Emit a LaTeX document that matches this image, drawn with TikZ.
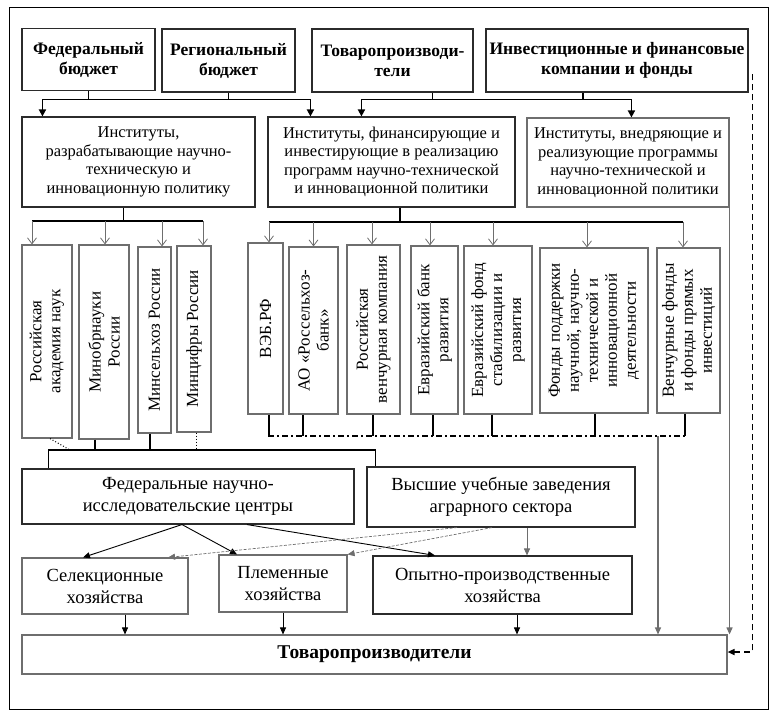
\documentclass[tikz,border=0pt]{standalone}
\usepackage{fontspec}
\setmainfont{Liberation Serif}
\usetikzlibrary{arrows.meta,calc}
\definecolor{lineclr}{HTML}{2B2B2B}
\definecolor{greyclr}{HTML}{6E6E6E}

\begin{document}
\begin{tikzpicture}[
   x=1pt, y=-1pt,
   box/.style={draw=lineclr, line width=1.1pt, inner sep=2pt, align=center},
   sz/.style 2 args={minimum width=#1pt, minimum height=#2pt},
   head/.style={font=\fontsize{17.5}{20}\selectfont\bfseries},
   txt/.style={font=\fontsize{16.5}{18.5}\selectfont},
   vbox/.style={box, draw=greyclr, rotate=90, font=\fontsize{17}{19}\selectfont},
   big/.style={font=\fontsize{18.5}{22}\selectfont},
   bus/.style={line width=1.7pt, draw=black},
   tips/.style={{Triangle[width=7pt,length=7pt]}-{Triangle[width=7pt,length=7pt]}},
   drop/.style={draw=greyclr, line width=0.8pt, -{Straight Barb[width=9pt,length=6pt]}},
   arr/.style={line width=0.9pt, -{Triangle[width=6pt,length=7pt]}},
   darr/.style={draw=greyclr, line width=0.7pt, dash pattern=on 3pt off 1.5pt,
                -{Triangle[width=6pt,length=7pt]}},
   feed/.style={draw=greyclr, line width=1.2pt, -{Triangle[width=6pt,length=7pt]}},
   ret/.style={draw=black, line width=1.6pt, dash pattern=on 6pt off 4pt,
               {Triangle[width=6pt,length=7pt]}-},
   dashdot/.style={line width=1.7pt, dash pattern=on 6pt off 3pt on 2pt off 3pt}]
  \useasboundingbox (0,0) rectangle (778,720);
  \draw[line width=1pt] (9,7) rectangle (768,709);

  % sources
  \node[box, head, sz={133}{62}] (fb) at (88.5,59.5) {Федеральный\\бюджет};
  \node[box, head, sz={133}{63}] (rb) at (228.5,60.5) {Региональный\\бюджет};
  \node[box, head, sz={161}{63}] (tp) at (392.5,60.5) {Товаропроизводи-\\тели};
  \node[box, head, sz={262}{63}] (ifk) at (617,60.5) {Инвестиционные и финансовые\\компании и фонды};

  % institutes
  \node[box, txt, sz={233}{90}] (ia) at (138.5,162) {Институты,\\разрабатывающие научно-\\техническую и\\инновационную политику};
  \node[box, txt, sz={247}{90}] (ib) at (391.5,162) {Институты, финансирующие и\\инвестирующие в реализацию\\программ научно-технической\\и инновационной политики};
  \node[box, txt, draw=greyclr, sz={202}{89}] (ic) at (628,162.5) {Институты, внедряющие и\\реализующие программы\\научно-технической и\\инновационной политики};

  % rotated boxes: .east is the top edge, .west the bottom edge
  \node[vbox, sz={193}{50}] (ran) at (47,341.5) {Российская\\академия наук};
  \node[vbox, sz={194}{50}] (mon) at (104,342) {Минобрнауки\\России};
  \node[vbox, sz={186}{33}] (msh) at (154.5,340) {Минсельхоз России};
  \node[vbox, sz={186}{34}] (mcf) at (194,339) {Минцифры России};

  \node[vbox, sz={171}{35}] (veb) at (265.5,328.5) {ВЭБ.РФ};
  \node[vbox, sz={167}{49}] (rsb) at (313.5,330.5) {АО «Россельхоз-\\банк»};
  \node[vbox, sz={169}{53}] (rvk) at (373.5,329.5) {Российская\\венчурная компания};
  \node[vbox, sz={168}{47}] (ebr) at (434.5,330) {Евразийский банк\\развития};
  \node[vbox, sz={168}{68}] (efsr) at (498,330) {Евразийский фонд\\стабилизации и\\развития};
  \node[vbox, sz={165}{108}] (fpn) at (594,330.5) {Фонды поддержки\\научной, научно-\\технической и\\инновационной\\деятельности};
  \node[vbox, sz={165}{63}] (vf) at (688.5,330.5) {Венчурные фонды\\и фонды прямых\\инвестиций};

  % research and education
  \node[box, big, sz={332}{55}] (fnc) at (188,496.5) {Федеральные научно-\\исследовательские центры};
  \node[box, big, sz={268}{60}] (vuz) at (501,497) {Высшие учебные заведения\\аграрного сектора};

  % farms
  \node[box, big, draw=greyclr, sz={166}{56}] (sel) at (105,586) {Селекционные\\хозяйства};
  \node[box, big, draw=greyclr, sz={128}{57}] (plm) at (283,583.5) {Племенные\\хозяйства};
  \node[box, big, sz={259}{58}] (opx) at (502.5,585) {Опытно-производственные\\хозяйства};
  \node[box, draw=greyclr, font=\fontsize{19.5}{22}\selectfont\bfseries, sz={705}{39}] (tpb) at (374.5,654.5) {Товаропроизводители};

  % top buses
  \coordinate (b1) at (0,100);
  \draw[bus] (fb.south) -- (fb.south |- b1);
  \draw[bus] (rb.south) -- (rb.south |- b1);
  \draw[bus, tips] ([xshift=21pt]ia.north west) -- ++(0,-17) -| ([xshift=43pt]ib.north west);
  \draw[bus] ([xshift=40pt]tp.south) -- ([xshift=40pt]tp.south |- b1);
  \draw[bus] ([xshift=-34pt]ifk.south) -- ([xshift=-34pt]ifk.south |- b1);
  \draw[bus, tips] ([xshift=94pt]ib.north west) -- ++(0,-17) -| ([xshift=105pt]ic.north west);

  % ministries
  \coordinate (b2) at (0,221);
  \draw[bus] ([xshift=-15pt]ia.south) -- ([xshift=-15pt]ia.south |- b2);
  \draw[bus] ([xshift=-15pt]ran.east |- b2) -- ([xshift=9pt]mcf.east |- b2);
  \foreach \n/\dx in {ran/-15, mon/1, msh/7.5, mcf/9}
    \draw[drop] ([xshift=\dx pt]\n.east |- b2) -- ([xshift=\dx pt]\n.east);

  % development institutions
  \coordinate (b3) at (0,222);
  \draw[bus] ([xshift=8.5pt]ib.south) -- ([xshift=8.5pt]ib.south |- b3);
  \draw[bus] ([xshift=3.5pt]veb.east |- b3) -- ([xshift=-5.5pt]vf.east |- b3);
  \foreach \n/\dx in {veb/3.5, rsb/0, rvk/-1.5, ebr/-4.5, efsr/-5, fpn/-7, vf/-5.5}
    \draw[drop] ([xshift=\dx pt]\n.east |- b3) -- ([xshift=\dx pt]\n.east);

  % dash-dot collector
  \coordinate (b4) at (0,436);
  \foreach \n/\dx in {veb/3.5, rsb/-10.5, rvk/-0.5, ebr/-1.5, efsr/-6, fpn/1, vf/-3.5}
    \draw[bus] ([xshift=\dx pt]\n.west) -- ([xshift=\dx pt]\n.west |- b4);
  \draw[dashdot] ([xshift=2.5pt]veb.west |- b4) -- ([xshift=-3.5pt]vf.west |- b4);
  \coordinate (c1) at (658,436);
  \draw[feed] (c1) -- (c1 |- tpb.north);

  % ministries to research centres
  \coordinate (b5) at (0,450);
  \draw[bus] ([xshift=27pt]fnc.north west) -- ([xshift=27pt]fnc.north west |- b5) -| ([xshift=9pt]vuz.north west);
  \draw[bus] ([xshift=-9pt]mon.west) -- ([xshift=-9pt]mon.west |- b5);
  \draw[bus] ([xshift=-4.5pt]msh.west) -- ([xshift=-4.5pt]msh.west |- b5);
  \draw[dotted, line width=1pt] ([xshift=2pt]mcf.west) -- ([xshift=2pt]mcf.west |- b5);
  \draw[dotted, line width=1pt] ([xshift=3pt]ran.west) -- ([xshift=23pt]ran.west |- b5);

  % centres to farms
  \draw[arr] ([xshift=-6pt]fnc.south) -- ([xshift=-22pt]sel.north);
  \draw[arr] ([xshift=-6pt]fnc.south) -- ([xshift=-46pt]plm.north);
  \draw[arr] ([xshift=59pt]fnc.south) -- ([xshift=-67.5pt]opx.north);
  \draw[darr] ([xshift=-44pt]vuz.south) -- ([xshift=63pt]sel.north);
  \draw[darr] ([xshift=-9pt]vuz.south) -- (plm.north east);
  \draw[arr, draw=greyclr] ([xshift=26pt]vuz.south) -- ([xshift=26pt]vuz.south |- opx.north);

  % farms to producers
  \draw[arr] ([xshift=20pt]sel.south) -- ([xshift=20pt]sel.south |- tpb.north);
  \draw[arr] (plm.south) -- (plm.south |- tpb.north);
  \draw[arr] ([xshift=14.5pt]opx.south) -- ([xshift=14.5pt]opx.south |- tpb.north);
  \draw[feed] (ic.south east) -- (ic.south east |- tpb.north);
  \draw[ret] ([yshift=2.5pt]tpb.east) -| ([xshift=4pt,yshift=-14pt]ifk.east) -- ([yshift=-14pt]ifk.east);
\end{tikzpicture}
\end{document}
